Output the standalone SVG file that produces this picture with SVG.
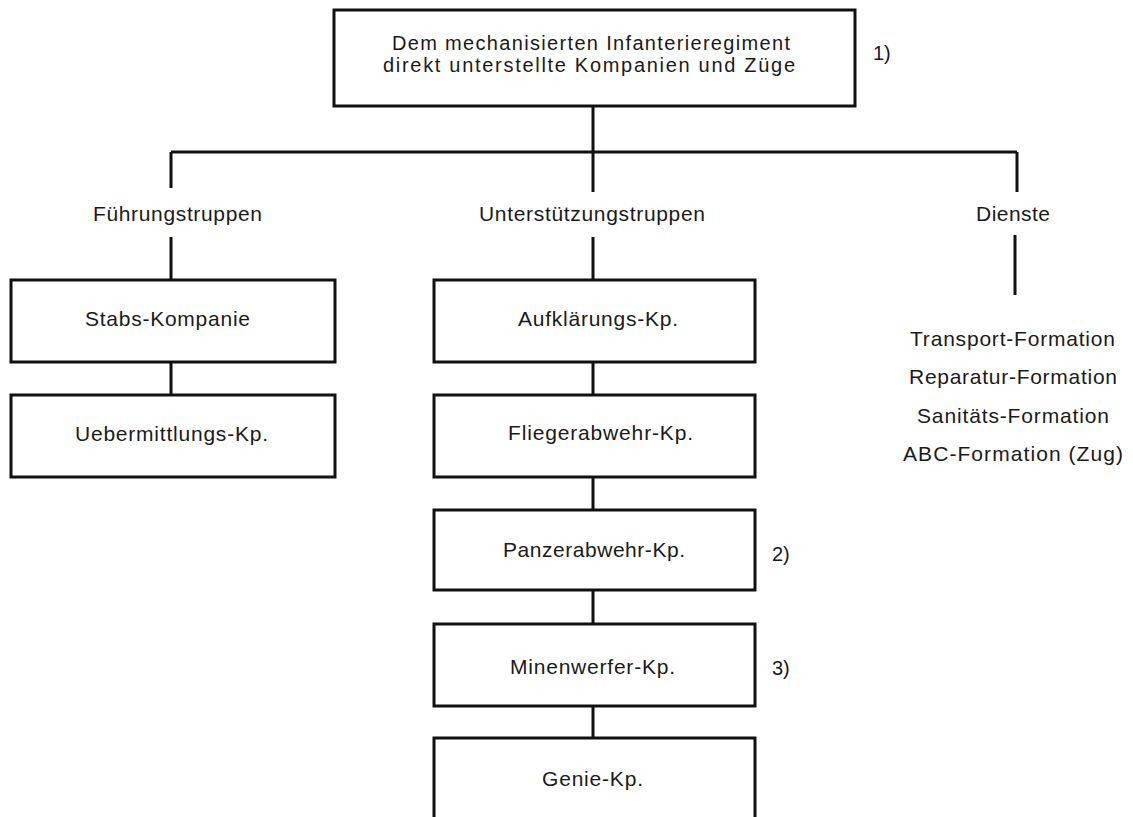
<svg xmlns="http://www.w3.org/2000/svg" width="1133" height="817" viewBox="0 0 1133 817">
<style>
.box{fill:none;stroke:#111;stroke-width:3;stroke-linejoin:miter}
.ln{fill:none;stroke:#111;stroke-width:3;stroke-linecap:butt}
text{font-family:"Liberation Sans",Arial,sans-serif;font-size:21px;fill:#1a1a1a;text-anchor:middle}
.sm{font-size:20px}
.fn{text-anchor:start}
</style>
<rect width="1133" height="817" fill="#fff"/>
<g id="connectors">
<path class="ln" d="M593 106V152M171 152H1017M171 152V188M593 152V192M1017 152V192"/>
<path class="ln" d="M171 237V280M593 237V280M1015 235V295"/>
<path class="ln" d="M171 362V395M593 362V395M593 477V510M593 590V624M593 706V738"/>
</g>
<g id="top">
<rect class="box" x="334" y="10" width="521" height="96"/>
<text class="sm" x="591" y="50" textLength="398" lengthAdjust="spacing">Dem mechanisierten Infanterieregiment</text>
<text class="sm" x="589" y="72" textLength="412" lengthAdjust="spacing">direkt unterstellte Kompanien und Züge</text>
<text class="fn sm" x="873" y="60">1)</text>
</g>
<g id="fuehrungstruppen"><text x="177.5" y="221" textLength="169" lengthAdjust="spacing">Führungstruppen</text></g>
<g id="unterstuetzungstruppen"><text x="592" y="221" textLength="226" lengthAdjust="spacing">Unterstützungstruppen</text></g>
<g id="dienste"><text x="1013" y="221" textLength="74" lengthAdjust="spacing">Dienste</text></g>
<g id="stabs"><rect class="box" x="11" y="280" width="324" height="82"/><text x="167.5" y="326" textLength="165" lengthAdjust="spacing">Stabs-Kompanie</text></g>
<g id="uebermittlung"><rect class="box" x="11" y="395" width="324" height="82"/><text x="171.5" y="441" textLength="193" lengthAdjust="spacing">Uebermittlungs-Kp.</text></g>
<g id="aufklaerung"><rect class="box" x="434" y="280" width="321" height="82"/><text x="598" y="326" textLength="160" lengthAdjust="spacing">Aufklärungs-Kp.</text></g>
<g id="fliegerabwehr"><rect class="box" x="434" y="395" width="321" height="82"/><text x="600.5" y="440" textLength="185" lengthAdjust="spacing">Fliegerabwehr-Kp.</text></g>
<g id="panzerabwehr"><rect class="box" x="434" y="510" width="321" height="80"/><text x="594" y="557" textLength="182" lengthAdjust="spacing">Panzerabwehr-Kp.</text><text class="fn sm" x="772" y="561">2)</text></g>
<g id="minenwerfer"><rect class="box" x="434" y="624" width="321" height="82"/><text x="592.5" y="674" textLength="165" lengthAdjust="spacing">Minenwerfer-Kp.</text><text class="fn sm" x="772" y="675">3)</text></g>
<g id="genie"><path class="box" d="M434 817V738H755V817"/><text x="592.5" y="786" textLength="101" lengthAdjust="spacing">Genie-Kp.</text></g>
<g id="dienste-liste">
<text x="1012.5" y="346" textLength="205" lengthAdjust="spacing">Transport-Formation</text>
<text x="1013" y="384" textLength="208" lengthAdjust="spacing">Reparatur-Formation</text>
<text x="1013" y="423" textLength="192" lengthAdjust="spacing">Sanitäts-Formation</text>
<text x="1013" y="461" textLength="220" lengthAdjust="spacing">ABC-Formation (Zug)</text>
</g>
</svg>
